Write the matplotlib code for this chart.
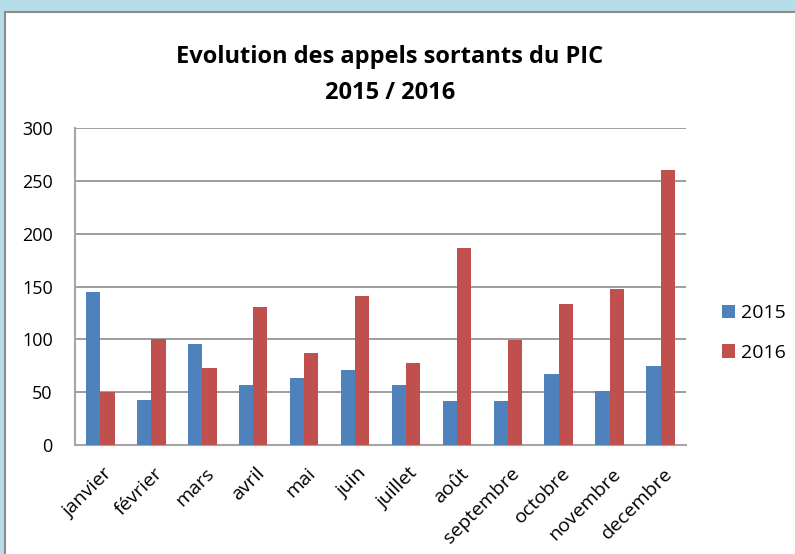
import matplotlib

matplotlib.use("Agg")
import matplotlib.pyplot as plt
import numpy as np
from matplotlib.patches import Rectangle

months = ["janvier", "février", "mars", "avril", "mai", "juin", "juillet",
          "août", "septembre", "octobre", "novembre", "decembre"]
calls_2015 = [145, 43, 96, 57, 63, 71, 57, 42, 42, 67, 51, 75]
calls_2016 = [50, 100, 73, 131, 87, 141, 78, 186, 99, 133, 148, 260]
yticks = [0, 50, 100, 150, 200, 250, 300]

BLUE = "#4F81BD"
RED = "#C0504D"
FONT = "Open Sans"

W, H = 795, 554
fig = plt.figure(figsize=(W / 100, H / 100), dpi=100, facecolor="#B7DDE8")

# white chart area with a grey frame, light blue showing top and left
fig.patches.append(Rectangle((5 / W, -0.01), 1.02, (H - 12) / H + 0.01,
                             transform=fig.transFigure, facecolor="white",
                             edgecolor="#8C8C8C", lw=1.5, zorder=-10))

ax = fig.add_axes([75 / W, 1 - 445 / H, (686 - 75) / W, (445 - 128) / H])
ax.set_facecolor("white")

x = np.arange(len(months))
bw = 0.28
ax.bar(x - bw / 2, calls_2015, bw, color=BLUE, label="2015", zorder=3)
ax.bar(x + bw / 2, calls_2016, bw, color=RED, label="2016", zorder=3)

ax.set_xlim(-0.5, len(months) - 0.5)
ax.set_ylim(0, 300)
ax.set_yticks(yticks)
ax.set_yticklabels([str(v) for v in yticks], fontsize=13, family=FONT)
ax.yaxis.grid(True, color="#8C8C8C", lw=1.2, zorder=0)
ax.tick_params(axis="y", length=0, pad=16)
ax.tick_params(axis="x", length=0, pad=14)
ax.set_xticks(x + 0.05)
ax.set_xticklabels(months, rotation=45, ha="right", rotation_mode="anchor",
                   fontsize=14, family=FONT)

for side in ("top", "right"):
    ax.spines[side].set_visible(False)
for side in ("left", "bottom"):
    ax.spines[side].set_color("#A6A6A6")
    ax.spines[side].set_linewidth(1.5)

fig.text(390 / W, 1 - 57 / H, "Evolution des appels sortants du PIC",
         ha="center", va="center", fontsize=17, fontweight="bold", family=FONT)
fig.text(390 / W, 1 - 93 / H, "2015 / 2016",
         ha="center", va="center", fontsize=17, fontweight="bold", family=FONT)

fig.legend(loc="center left", bbox_to_anchor=(704 / W, 1 - 333 / H),
           frameon=False, prop={"family": FONT, "size": 14},
           handlelength=0.7, handleheight=0.7, handletextpad=0.3,
           labelspacing=1.1)

fig.savefig("out.png", dpi=100, facecolor=fig.get_facecolor())
